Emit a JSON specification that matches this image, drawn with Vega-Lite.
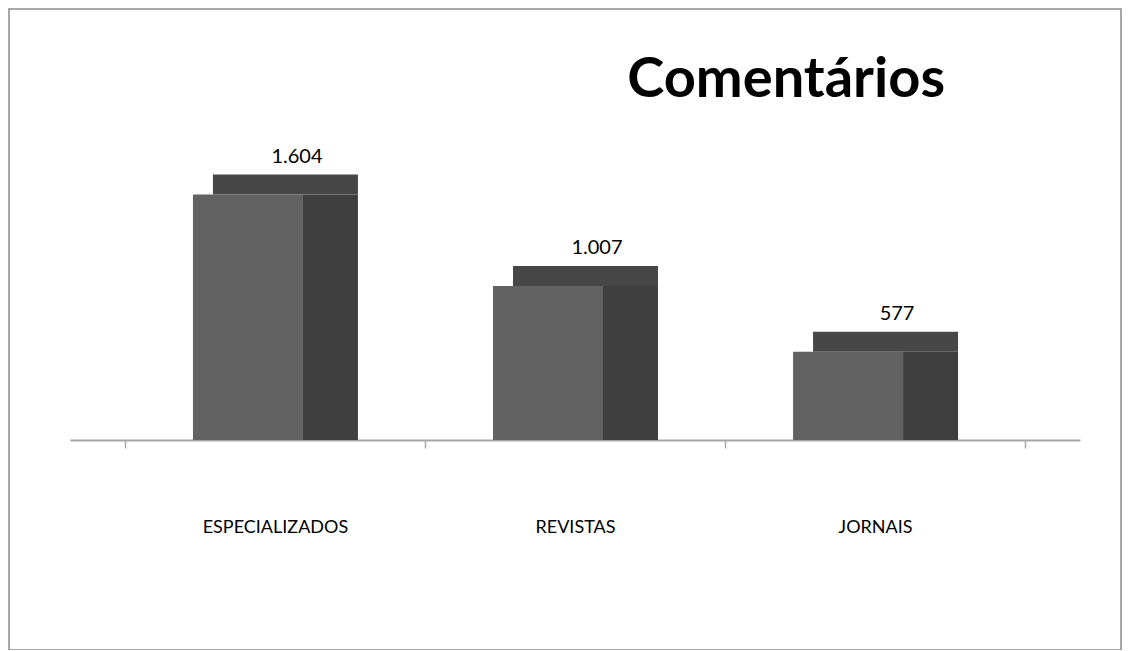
{
  "$schema": "https://vega.github.io/schema/vega-lite/v6.json",
  "width": 1112,
  "height": 641,
  "padding": {"left": 9, "top": 9, "right": 10, "bottom": 0},
  "background": "white",
  "config": {
    "view": {"stroke": "#8a8a8a", "strokeWidth": 1.5},
    "font": "Lato",
    "locale": {"number": {"decimal": ",", "thousands": ".", "grouping": [3], "currency": ["R$", ""]}}
  },
  "title": {
    "text": "Comentários",
    "font": "Lato",
    "fontSize": 56,
    "fontWeight": "bold",
    "color": "#000000",
    "anchor": "end",
    "frame": "group",
    "orient": "top",
    "offset": -100,
    "dx": -176
  },
  "data": {
    "values": [
      {"categoria": "ESPECIALIZADOS", "valor": 1604},
      {"categoria": "REVISTAS", "valor": 1007},
      {"categoria": "JORNAIS", "valor": 577}
    ]
  },
  "encoding": {
    "x": {
      "field": "categoria",
      "type": "nominal",
      "sort": null,
      "scale": {"range": [61, 1071], "paddingInner": 0, "paddingOuter": 0.183},
      "axis": {
        "title": null,
        "orient": "bottom",
        "offset": -210,
        "domainColor": "#a8a8a8",
        "domainWidth": 2,
        "tickColor": "#a8a8a8",
        "tickWidth": 1.5,
        "tickSize": 8,
        "tickBand": "extent",
        "labelAngle": 0,
        "labelFont": "Lato",
        "labelFontSize": 18,
        "labelFontWeight": "normal",
        "labelColor": "#000000",
        "labelPadding": 70
      }
    },
    "y": {
      "field": "valor",
      "type": "quantitative",
      "scale": {"domain": [-1373, 2817], "nice": false, "zero": false},
      "axis": null
    }
  },
  "layer": [
    {
      "mark": {"type": "bar", "size": 110, "xOffset": -27, "color": "#626262"},
      "encoding": {"y2": {"datum": 0}}
    },
    {
      "mark": {"type": "bar", "size": 55, "xOffset": 55.5, "color": "#3f3f3f"},
      "encoding": {"y2": {"datum": 0}}
    },
    {
      "mark": {"type": "tick", "size": 145, "thickness": 20, "xOffset": 10.5, "yOffset": -10, "color": "#474747", "opacity": 1, "orient": "horizontal"}
    },
    {
      "mark": {"type": "text", "baseline": "bottom", "dy": -28, "xOffset": 22, "fontSize": 20, "font": "Lato", "color": "#000000"},
      "encoding": {"text": {"field": "valor", "type": "quantitative", "format": ",d"}}
    }
  ]
}
